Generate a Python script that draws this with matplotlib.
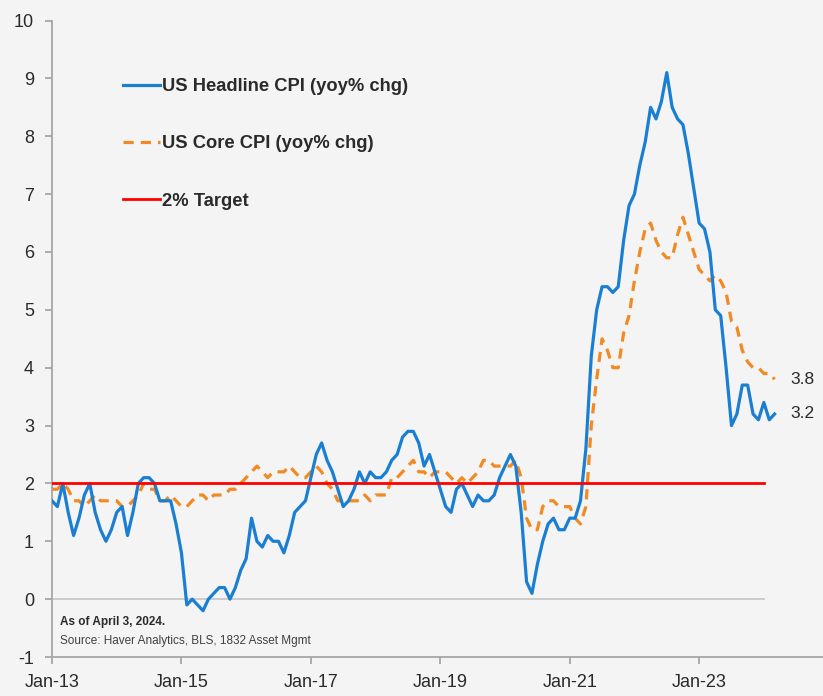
#!/bin/env python3
import matplotlib
matplotlib.use('Agg')
import matplotlib.pyplot as plt

# monthly yoy % change, Dec-2012 .. Feb-2024
headline_cpi = [
    1.7,
    1.6, 2.0, 1.5, 1.1, 1.4, 1.8, 2.0, 1.5, 1.2, 1.0, 1.2, 1.5,
    1.6, 1.1, 1.5, 2.0, 2.1, 2.1, 2.0, 1.7, 1.7, 1.7, 1.3, 0.8,
    -0.1, 0.0, -0.1, -0.2, 0.0, 0.1, 0.2, 0.2, 0.0, 0.2, 0.5, 0.7,
    1.4, 1.0, 0.9, 1.1, 1.0, 1.0, 0.8, 1.1, 1.5, 1.6, 1.7, 2.1,
    2.5, 2.7, 2.4, 2.2, 1.9, 1.6, 1.7, 1.9, 2.2, 2.0, 2.2, 2.1,
    2.1, 2.2, 2.4, 2.5, 2.8, 2.9, 2.9, 2.7, 2.3, 2.5, 2.2, 1.9,
    1.6, 1.5, 1.9, 2.0, 1.8, 1.6, 1.8, 1.7, 1.7, 1.8, 2.1, 2.3,
    2.5, 2.3, 1.5, 0.3, 0.1, 0.6, 1.0, 1.3, 1.4, 1.2, 1.2, 1.4,
    1.4, 1.7, 2.6, 4.2, 5.0, 5.4, 5.4, 5.3, 5.4, 6.2, 6.8, 7.0,
    7.5, 7.9, 8.5, 8.3, 8.6, 9.1, 8.5, 8.3, 8.2, 7.7, 7.1, 6.5,
    6.4, 6.0, 5.0, 4.9, 4.0, 3.0, 3.2, 3.7, 3.7, 3.2, 3.1, 3.4,
    3.1, 3.2,
]
core_cpi = [
    1.9,
    1.9, 2.0, 1.9, 1.7, 1.7, 1.6, 1.7, 1.8, 1.7, 1.7, 1.7, 1.7,
    1.6, 1.6, 1.7, 1.8, 2.0, 1.9, 1.9, 1.7, 1.7, 1.8, 1.7, 1.6,
    1.6, 1.7, 1.8, 1.8, 1.7, 1.8, 1.8, 1.8, 1.9, 1.9, 2.0, 2.1,
    2.2, 2.3, 2.2, 2.1, 2.2, 2.2, 2.2, 2.3, 2.2, 2.1, 2.1, 2.2,
    2.3, 2.2, 2.0, 1.9, 1.7, 1.7, 1.7, 1.7, 1.7, 1.8, 1.7, 1.8,
    1.8, 1.8, 2.1, 2.1, 2.2, 2.3, 2.4, 2.2, 2.2, 2.1, 2.2, 2.2,
    2.2, 2.1, 2.0, 2.1, 2.0, 2.1, 2.2, 2.4, 2.4, 2.3, 2.3, 2.3,
    2.3, 2.4, 2.1, 1.4, 1.2, 1.2, 1.6, 1.7, 1.7, 1.6, 1.6, 1.6,
    1.4, 1.3, 1.6, 3.0, 3.8, 4.5, 4.3, 4.0, 4.0, 4.6, 4.9, 5.5,
    6.0, 6.4, 6.5, 6.2, 6.0, 5.9, 5.9, 6.3, 6.6, 6.3, 6.0, 5.7,
    5.6, 5.5, 5.6, 5.5, 5.3, 4.8, 4.7, 4.3, 4.1, 4.0, 4.0, 3.9,
    3.9, 3.8,
]
target = 2.0
tick_labels = ['Jan-13', 'Jan-15', 'Jan-17', 'Jan-19', 'Jan-21', 'Jan-23']

bg = '#f4f4f4'
blue = '#1a7fd2'
orange = '#f28a24'
red = '#ff0000'
axis_gray = '#a6a6a6'
text_col = '#2a2a2a'

plt.rcParams['font.family'] = ['Liberation Sans', 'DejaVu Sans']
plt.rcParams['axes.unicode_minus'] = False

fig = plt.figure(figsize=(8.23, 6.96), dpi=100, facecolor=bg)
ax = fig.add_axes([0.0632, 0.056, 0.937, 0.9145], facecolor=bg)

x = list(range(len(headline_cpi)))
x_end = 132

ax.plot([0, x_end], [0, 0], color='#c8c8c8', lw=1.3, zorder=1)
ax.plot(x, headline_cpi, color=blue, lw=2.3, zorder=3,
        label='US Headline CPI (yoy% chg)', solid_joinstyle='round')
ax.plot(x, core_cpi, color=orange, lw=2.3, dashes=(3.2, 2.2), zorder=2,
        label='US Core CPI (yoy% chg)')
ax.plot([0, x_end], [target, target], color=red, lw=2.0, zorder=4,
        label='2% Target')

ax.set_xlim(0, 143)
ax.set_ylim(-1, 10)
ax.set_yticks(range(-1, 11))
ax.set_xticks(range(0, 121, 24))
ax.set_xticklabels(tick_labels)

for s in ['top', 'right']:
    ax.spines[s].set_visible(False)
for s in ['left', 'bottom']:
    ax.spines[s].set_color(axis_gray)
    ax.spines[s].set_linewidth(1.3)
ax.tick_params(axis='both', colors=axis_gray, labelcolor=text_col,
               labelsize=13, length=5, width=1.3, direction='out')
ax.tick_params(axis='y', pad=8)
ax.tick_params(axis='x', pad=7)

# end labels
ax.text(x[-1] + 3, core_cpi[-1], '%.1f' % core_cpi[-1], fontsize=12.5,
        color=text_col, va='center', ha='left')
ax.text(x[-1] + 3, headline_cpi[-1], '%.1f' % headline_cpi[-1], fontsize=12.5,
        color=text_col, va='center', ha='left')

leg = fig.legend(*ax.get_legend_handles_labels(), loc='upper left',
                 bbox_to_anchor=(0.1495, 0.888), frameon=False,
                 fontsize=13.2, handlelength=2.0, handletextpad=0.15,
                 labelspacing=2.2, borderpad=0, borderaxespad=0)
for t in leg.get_texts():
    t.set_fontweight('bold')
    t.set_color(text_col)

ax.text(1.5, -0.4, 'As of April 3, 2024.', fontsize=8.5, fontweight='bold',
        color=text_col, va='center')
ax.text(1.5, -0.72, 'Source: Haver Analytics, BLS, 1832 Asset Mgmt', fontsize=8.5,
        color='#404040', va='center')

plt.savefig('out.png', dpi=100, facecolor=bg)
